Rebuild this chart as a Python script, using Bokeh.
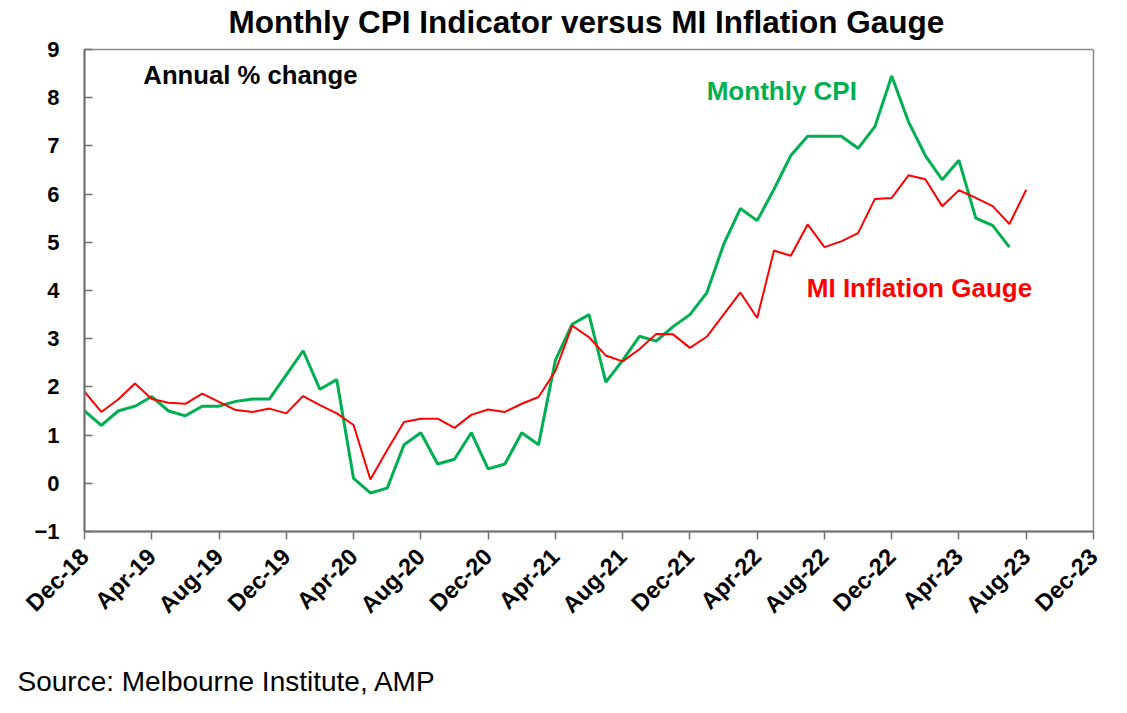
import math
from bokeh.plotting import figure
from bokeh.models import Label, FixedTicker, Range1d, Title, LinearAxis
from bokeh.embed import file_html
from bokeh.resources import INLINE

# Monthly data, Dec-18 onwards (annual % change)
monthly_cpi = [1.5, 1.2, 1.5, 1.6, 1.8, 1.5, 1.4, 1.6, 1.6, 1.7, 1.75, 1.75,
               2.25, 2.75, 1.95, 2.15, 0.1, -0.2, -0.1, 0.8, 1.05, 0.4, 0.5, 1.05,
               0.3, 0.4, 1.05, 0.8, 2.55, 3.3, 3.5, 2.1, 2.55, 3.05, 2.95, 3.25,
               3.5, 3.95, 4.95, 5.7, 5.45, 6.1, 6.8, 7.2, 7.2, 7.2, 6.95, 7.4,
               8.45, 7.5, 6.8, 6.3, 6.7, 5.5, 5.35, 4.9]
mi_gauge = [1.9, 1.48, 1.74, 2.07, 1.75, 1.67, 1.65, 1.86, 1.69, 1.52, 1.48, 1.55,
            1.45, 1.81, 1.62, 1.45, 1.21, 0.08, 0.69, 1.27, 1.34, 1.34, 1.15, 1.42,
            1.53, 1.48, 1.65, 1.79, 2.33, 3.27, 3.03, 2.65, 2.53, 2.78, 3.1, 3.09,
            2.81, 3.04, 3.5, 3.96, 3.43, 4.83, 4.72, 5.37, 4.9, 5.02, 5.19, 5.9,
            5.92, 6.39, 6.31, 5.75, 6.08, 5.92, 5.75, 5.38, 6.09]
tick_labels = ["Dec-18", "Apr-19", "Aug-19", "Dec-19", "Apr-20", "Aug-20",
               "Dec-20", "Apr-21", "Aug-21", "Dec-21", "Apr-22", "Aug-22",
               "Dec-22", "Apr-23", "Aug-23", "Dec-23"]
tick_step = 4  # months between ticks
y_ticks = [-1, 0, 1, 2, 3, 4, 5, 6, 7, 8, 9]

x_cpi = list(range(len(monthly_cpi)))
x_mi = list(range(len(mi_gauge)))
x_ticks = [i * tick_step for i in range(len(tick_labels))]

GREEN = "#00B050"
RED = "#FF0000"
FONT = "Liberation Sans"

p = figure(frame_width=1009, frame_height=482,
           min_border_left=84, min_border_right=26,
           min_border_top=49, min_border_bottom=174,
           x_range=Range1d(0, 60), y_range=Range1d(-1, 9),
           output_backend="svg", toolbar_location=None)

xa = p.xaxis[0]
ya = p.yaxis[0]

def spacer_axis(size):
    # blank axis (one white tick, no label, no line) used only to reserve space
    return LinearAxis(ticker=FixedTicker(ticks=[60]), major_tick_out=size,
                      major_tick_in=0, minor_tick_out=0, minor_tick_in=0,
                      axis_line_color=None, major_tick_line_color="white",
                      minor_tick_line_color=None, major_label_standoff=0,
                      major_label_overrides={60: ""},
                      major_label_text_color=None,
                      major_label_text_font_size="0px")

p.title.text = "Monthly CPI Indicator versus MI Inflation Gauge"
p.title.align = "left"
p.title.offset = 144
p.title.vertical_align = "top"
p.title.text_font = FONT
p.title.text_font_size = "31.5px"
p.title.text_font_style = "bold"
p.title.text_color = "black"
p.title.standoff = 0

p.xgrid.visible = False
p.ygrid.visible = False
p.outline_line_color = "#8c8c8c"
p.outline_line_width = 1.5
p.background_fill_color = "white"
p.border_fill_color = "white"

xa.ticker = FixedTicker(ticks=x_ticks)
xa.major_label_overrides = {t: lab for t, lab in zip(x_ticks, tick_labels)}
xa.major_label_orientation = math.pi / 4
xa.major_tick_in = 0
xa.major_tick_out = 8
xa.minor_tick_line_color = None
xa.major_label_standoff = 13
xa.axis_line_color = "#707070"
xa.axis_line_width = 2
xa.major_tick_line_color = "#707070"
xa.major_tick_line_width = 1.5
xa.major_label_text_font = FONT
xa.major_label_text_font_style = "bold"
xa.major_label_text_font_size = "23.5px"
xa.major_label_text_color = "black"

ya.ticker = FixedTicker(ticks=y_ticks)
ya.major_tick_in = 8
ya.major_tick_out = 0
ya.minor_tick_line_color = None
ya.major_label_standoff = 25
ya.axis_line_color = "#707070"
ya.axis_line_width = 2
ya.major_tick_line_color = "#707070"
ya.major_tick_line_width = 1.5
ya.major_label_text_font = FONT
ya.major_label_text_font_style = "bold"
ya.major_label_text_font_size = "22px"
ya.major_label_text_color = "black"

p.add_layout(spacer_axis(8), "above")
p.add_layout(spacer_axis(35), "below")
src = Title(text="Source: Melbourne Institute, AMP", align="left",
            vertical_align="top", text_font=FONT, text_font_size="28px",
            text_font_style="normal", text_color="black", offset=-67, standoff=0)
p.add_layout(src, "below")

p.line(x_cpi, monthly_cpi, line_color=GREEN, line_width=3)
p.line(x_mi, mi_gauge, line_color=RED, line_width=2)

def lab(x, y, text, size, color="black", style="bold", align="left"):
    p.add_layout(Label(x=x, y=y, text=text, text_font=FONT,
                       text_font_size=size, text_font_style=style,
                       text_color=color, text_align=align,
                       text_baseline="alphabetic"))

lab(3.5, 8.48, "Annual % change", "25.7px")
lab(37.0, 8.13, "Monthly CPI", "26px", color=GREEN)
lab(42.95, 4.05, "MI Inflation Gauge", "26px", color=RED)

open("out.html", "w").write(file_html(p, INLINE))
